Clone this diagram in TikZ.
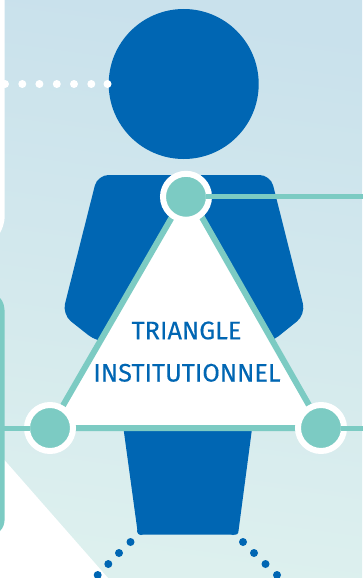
\documentclass[tikz,border=0pt]{standalone}
\usepackage{fontspec}
\setmainfont{Fira Sans}
\usetikzlibrary{calc}
\definecolor{navy}{HTML}{0066B3}
\definecolor{tealc}{HTML}{7CCBC3}
\definecolor{bgtop}{HTML}{C9E1EC}
\definecolor{bgbot}{HTML}{DDF0EE}
\tikzset{
  linkline/.style={draw=tealc,line width=5pt,shorten <=-6pt,shorten >=-6pt},
  hub/.style={circle,fill=tealc,draw=white,line width=6pt,minimum size=46pt,inner sep=0pt},
  title/.style={text=navy,font=\fontsize{25.3}{25.3}\selectfont,inner sep=0pt}
}
\begin{document}
\begin{tikzpicture}[x=1pt,y=-1pt]
\useasboundingbox (0,0) rectangle (362,578);
\shade[top color=bgtop,bottom color=bgbot,shading angle=-8] (0,0) rectangle (362,578);
% white areas
\fill[white] (0,0) -- (4.7,0) -- (4.7,215) .. controls (4.7,224) and (2,229) .. (0,233) -- cycle;
\fill[white] (0,455) -- (108,578) -- (0,578) -- cycle;
% teal panel edge
\fill[tealc] (0,298) .. controls (3,301) and (4.7,306) .. (4.7,313) -- (4.7,518) .. controls (4.7,524) and (3,528) .. (0,531) -- cycle;
% figure
\node[circle,fill=navy,minimum size=150pt,inner sep=0pt] (head) at (183.7,84) {};
\fill[navy,rounded corners=11pt] (97.5,175) -- (270.5,175) -- (305.6,314.5) -- (270,343) -- (97,342) -- (62.3,314.5) -- cycle;
\fill[navy,rounded corners=2.5pt] (123,425) -- (252.5,425) -- (238,534.7) -- (138,534.7) -- cycle;
% triangle
\coordinate (apex) at (187,191);
\coordinate (vl) at (50,428);
\coordinate (vr) at (322,428);
\filldraw[fill=white,draw=tealc,line width=6pt,miter limit=10] (apex) -- (vl) -- (vr) -- cycle;
% hubs and connectors
\coordinate (edgeR) at (368,196.8);
\coordinate (edgeL) at (-6,428);
\coordinate (edgeB) at (368,428);
\node[hub] (top) at (186,196.8) {};
\node[hub] (left) at (50,428) {};
\node[hub] (right) at (321,428) {};
\draw[linkline] (top) -- (edgeR);
\draw[linkline] (edgeL) -- (left);
\draw[linkline] (right) -- (edgeB);
% dotted links
\foreach \x in {5,22.3,39.4,56.8,74,91.3,107.5}
  \fill[white] (\x,84) circle (4);
\foreach \x/\y in {141/531,130.5/542,119/553,108.3/564,97.7/575,233/531,243/542,254/553,265.5/564,277/575}
  \fill[navy] (\x,\y) circle (4);
\node[title] (t1) at (186.5,330.5) {\addfontfeature{FakeBold=0.25}TRIANGLE};
\node[title] (t2) at (187,372.8) {\addfontfeature{FakeBold=0.25}INSTITUTIONNEL};
\end{tikzpicture}
\end{document}
